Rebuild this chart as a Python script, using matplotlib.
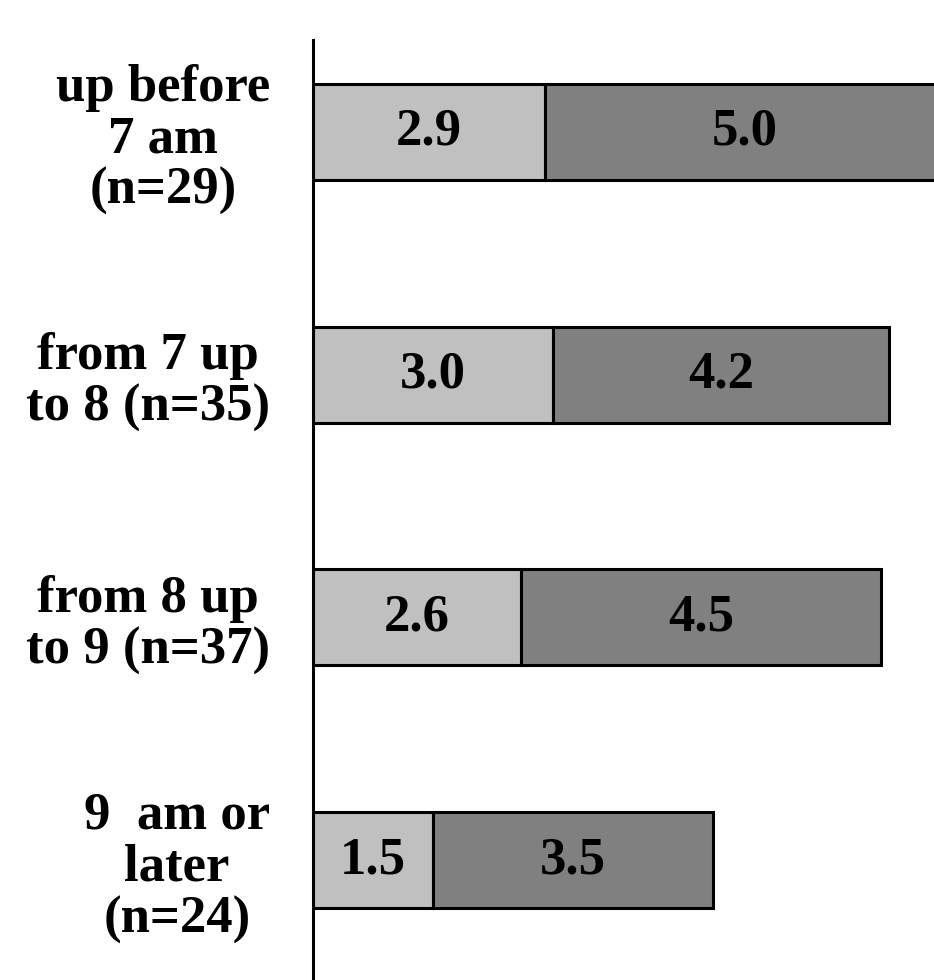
import matplotlib
matplotlib.use("Agg")
import matplotlib.pyplot as plt

categories = ["up before\n7 am\n(n=29)", "from 7 up\nto 8 (n=35)",
              "from 8 up\nto 9 (n=37)", "9  am or\nlater\n(n=24)"]
first = [2.9, 3.0, 2.6, 1.5]
second = [5.0, 4.2, 4.5, 3.5]

plt.rcParams['font.family'] = ['Liberation Serif', 'DejaVu Serif']
plt.rcParams['font.weight'] = 'bold'

fig = plt.figure(figsize=(9.34, 9.8), dpi=100)
ax = fig.add_axes([313 / 934, 0, 1 - 313 / 934, 940 / 980])

y = list(range(len(categories)))
h = 0.395
b1 = ax.barh(y, first, height=h, color='#c0c0c0', edgecolor='black', linewidth=2.2)
b2 = ax.barh(y, second, left=first, height=h, color='#808080', edgecolor='black', linewidth=2.2)

for bars, vals in ((b1, first), (b2, second)):
    for bar, v in zip(bars, vals):
        cx = bar.get_x() + bar.get_width() / 2
        cy = bar.get_y() + bar.get_height() / 2
        ax.text(cx, cy, f"{v:.1f}", ha='center', va='center',
                fontsize=38, fontweight='bold', color='black')

ax.set_xlim(0, 7.76)
ax.set_ylim(3.494, -0.379)
ax.set_yticks(y)
ax.set_yticklabels(categories, fontsize=38, fontweight='bold',
                   multialignment='center', linespacing=1.1)
ax.tick_params(axis='y', length=0, pad=31)
ax.set_xticks([])
for s in ('top', 'right', 'bottom'):
    ax.spines[s].set_visible(False)
ax.spines['left'].set_linewidth(2.2)

fig.savefig('out.png', dpi=100)
